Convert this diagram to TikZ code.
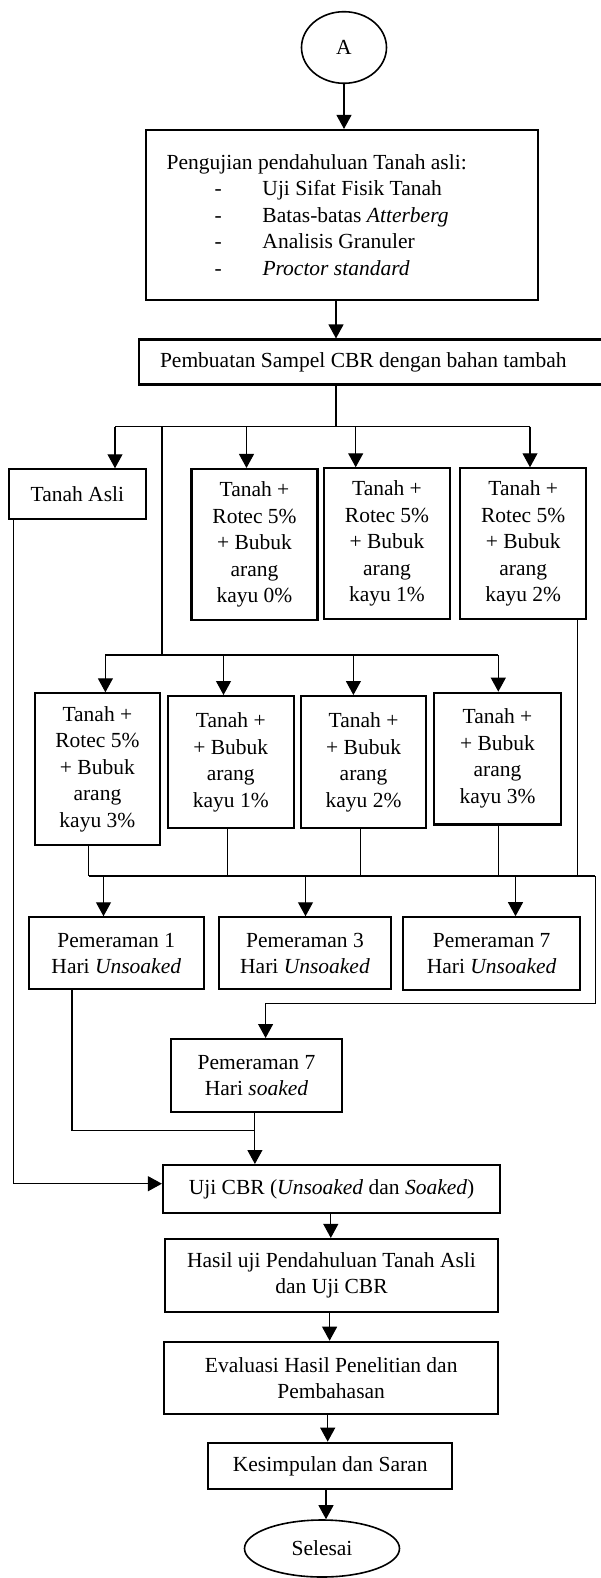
\documentclass[tikz,border=0pt]{standalone}
\usepackage{fontspec}
\setmainfont{Liberation Serif}
\usetikzlibrary{arrows.meta,shapes.geometric}
\newcommand{\fsz}{\fontsize{21.5}{26.5}\selectfont}
\newcommand{\bulitem}[1]{\hspace*{47.9pt}\makebox[47.9pt][l]{-}#1}
\tikzset{
  box/.style={draw, line width=2.1pt, inner sep=0pt, align=center, font=\fsz},
  oval/.style={draw, ellipse, line width=1.6pt, inner sep=0pt, font=\fsz},
  conn/.style={line width=1.1pt},
  arr/.style={conn, -{Triangle[width=15pt,length=14pt]}},
}
\begin{document}
\begin{tikzpicture}[x=1pt,y=-1pt]
\useasboundingbox (0,0) rectangle (601,1578);

% ---- nodes ----
\node[oval, minimum width=85pt, minimum height=71.6pt] (A) at (344,47.5) {A};
\node[box, align=flush left, text width=350.2pt, inner xsep=21.1pt, minimum height=170pt] (B1) at (341.8,215) {Pengujian pendahuluan Tanah asli:\\
\bulitem{Uji Sifat Fisik Tanah}\\
\bulitem{Batas-batas \textit{Atterberg}}\\
\bulitem{Analisis Granuler}\\
\bulitem{\textit{Proctor standard}}};
\node[box, align=flush left, text width=420.7pt, inner xsep=21.3pt, minimum height=45pt] (B2) at (370.35,362) {Pembuatan Sampel CBR dengan bahan tambah};

\node[box, minimum width=136.7pt, minimum height=50pt] (TA) at (77.35,494.3) {Tanah Asli};
\node[box, minimum width=126pt, minimum height=151pt] (T1) at (254.5,544.5) {Tanah +\\Rotec 5\%\\+ Bubuk\\arang\\kayu 0\%};
\node[box, minimum width=125.3pt, minimum height=151pt] (T2) at (387,543.8) {Tanah +\\Rotec 5\%\\+ Bubuk\\arang\\kayu 1\%};
\node[box, minimum width=125.7pt, minimum height=151pt] (T3) at (523.2,543.8) {Tanah +\\Rotec 5\%\\+ Bubuk\\arang\\kayu 2\%};

\node[box, minimum width=125.7pt, minimum height=151.7pt] (R1) at (97.4,769.2) {Tanah +\\Rotec 5\%\\+ Bubuk\\arang\\kayu 3\%};
\node[box, minimum width=125.7pt, minimum height=132.3pt] (R2) at (230.8,762.2) {Tanah +\\+ Bubuk\\arang\\kayu 1\%};
\node[box, minimum width=125.3pt, minimum height=132.3pt] (R3) at (363.6,762.2) {Tanah +\\+ Bubuk\\arang\\kayu 2\%};
\node[box, minimum width=126.5pt, minimum height=131.8pt] (R4) at (497.5,758.6) {Tanah +\\+ Bubuk\\arang\\kayu 3\%};

\node[box, minimum width=175.2pt, minimum height=72pt] (P1) at (116.3,953.3) {Pemeraman 1\\Hari \textit{Unsoaked}};
\node[box, minimum width=172.1pt, minimum height=72pt] (P3) at (305,953.3) {Pemeraman 3\\Hari \textit{Unsoaked}};
\node[box, minimum width=176.7pt, minimum height=72.7pt] (P7) at (491.6,953.6) {Pemeraman 7\\Hari \textit{Unsoaked}};
\node[box, minimum width=171.7pt, minimum height=73.3pt] (PS) at (256.5,1075.7) {Pemeraman 7\\Hari \textit{soaked}};

\node[box, minimum width=337.3pt, minimum height=47.7pt] (U) at (331.6,1188.9) {Uji CBR (\textit{Unsoaked} dan \textit{Soaked})};
\node[box, minimum width=333.5pt, minimum height=72.7pt] (H) at (331.5,1275.3) {Hasil uji Pendahuluan Tanah Asli\\dan Uji CBR};
\node[box, minimum width=334.3pt, minimum height=72.3pt] (E) at (331.2,1377.9) {Evaluasi Hasil Penelitian dan\\Pembahasan};
\node[box, minimum width=244.2pt, minimum height=46.6pt] (K) at (330.2,1466) {Kesimpulan dan Saran};
\node[oval, minimum width=155pt, minimum height=57pt] (S) at (322,1548.5) {Selesai};

% ---- junction coordinates ----
\coordinate (c1) at (336,300);
\coordinate (b1) at (336,426.5);
\coordinate (b1L) at (115,426.5);
\coordinate (b1R) at (530,426.5);
\coordinate (b1a) at (246.5,426.5);
\coordinate (b1b) at (355.7,426.5);
\coordinate (b1c) at (162,426.5);
\coordinate (b2c) at (162,655);
\coordinate (b2L) at (105.4,655);
\coordinate (b2a) at (223.5,655);
\coordinate (b2b) at (353.4,655);
\coordinate (b2R) at (498.3,655);
\coordinate (b3L) at (88.9,876);
\coordinate (b3a) at (227.7,876);
\coordinate (b3b) at (360.3,876);
\coordinate (b3c) at (498.3,876);
\coordinate (b3d) at (577.6,876);
\coordinate (b3R) at (595.2,876);
\coordinate (b3p1) at (103.5,876);
\coordinate (b3p3) at (305.5,876);
\coordinate (b3p7) at (515.5,876);
\coordinate (s1) at (595.2,1003.3);
\coordinate (s2) at (265.6,1003.3);
\coordinate (m1) at (72,1130.7);
\coordinate (m2) at (254.9,1130.7);
\coordinate (l1) at (13.4,1183.7);

% ---- connectors ----
\draw[arr] (A.south) -- (A.south |- B1.north);
\draw[arr] (c1) -- (c1 |- B2.north);
\draw[conn] (B2.south -| b1) -- (b1);
\draw[conn] (b1L) -- (b1R);
\draw[arr] (b1L) -- (b1L |- TA.north);
\draw[arr] (b1a) -- (b1a |- T1.north);
\draw[arr] (b1b) -- (b1b |- T2.north);
\draw[arr] (b1R) -- (b1R |- T3.north);
\draw[conn] (b1c) -- (b2c);
\draw[conn] (b2L) -- (b2R);
\draw[arr] (b2L) -- (b2L |- R1.north);
\draw[arr] (b2a) -- (b2a |- R2.north);
\draw[arr] (b2b) -- (b2b |- R3.north);
\draw[arr] (b2R) -- (b2R |- R4.north);
\draw[conn] (R1.south -| b3L) -- (b3L);
\draw[conn] (R2.south -| b3a) -- (b3a);
\draw[conn] (R3.south -| b3b) -- (b3b);
\draw[conn] (R4.south -| b3c) -- (b3c);
\draw[conn] (T3.south -| b3d) -- (b3d);
\draw[conn] (b3L) -- (b3R);
\draw[arr] (b3p1) -- (b3p1 |- P1.north);
\draw[arr] (b3p3) -- (b3p3 |- P3.north);
\draw[arr] (b3p7) -- (b3p7 |- P7.north);
\draw[arr] (b3R) -- (s1) -- (s2) -- (s2 |- PS.north);
\draw[conn] (P1.south -| m1) -- (m1) -- (m2);
\draw[arr] (PS.south -| m2) -- (m2 |- U.north);
\draw[arr] (TA.south -| l1) -- (l1) -- (l1 -| U.west);
\draw[arr] (U.south -| 330.8,0) -- (330.8,0 |- H.north);
\draw[arr] (H.south -| 329.6,0) -- (329.6,0 |- E.north);
\draw[arr] (E.south -| 327.7,0) -- (327.7,0 |- K.north);
\draw[arr] (K.south -| 326,0) -- (326,0 |- S.north);
\end{tikzpicture}
\end{document}
